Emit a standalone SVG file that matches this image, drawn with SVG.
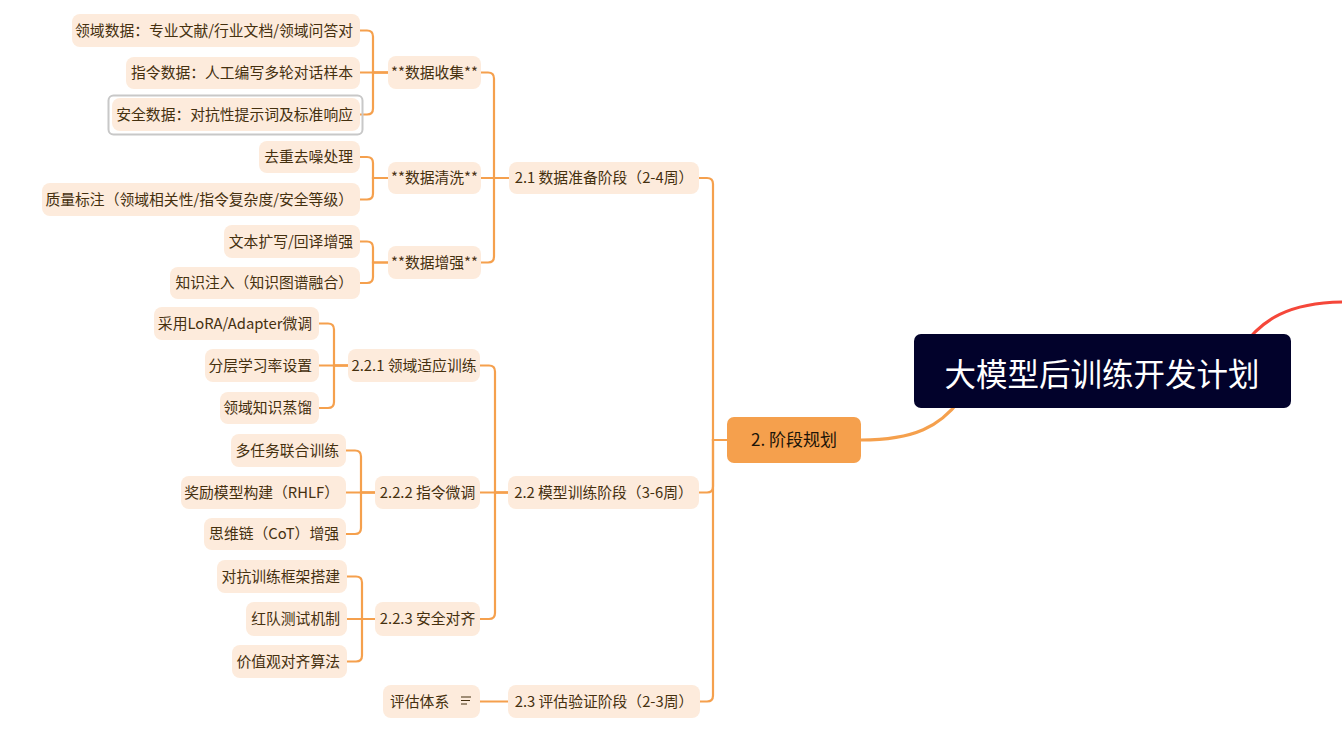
<svg xmlns="http://www.w3.org/2000/svg" width="1342" height="742" viewBox="0 0 1342 742">
<style>
.n{fill:#FDEBDC}
.t{font-family:"Noto Sans CJK SC","Noto Sans",sans-serif;font-size:14.8px;fill:#45300f}
.e{text-anchor:end}
.m{text-anchor:middle}
.c path{fill:none;stroke:#F5A04D;stroke-width:2.2;stroke-linecap:round}
</style>
<rect width="1342" height="742" fill="#ffffff"/>
<g id="connectors" class="c">
<path d="M1240,350 C1262,318 1290,303 1342,302" style="stroke:#F5473A;stroke-width:3"/>
<path d="M861,440 C915,440 940,426 960,400" style="stroke-width:3"/>
<!-- main to phases -->
<path d="M727,440 H713 V184 Q713,178 707,178 H699"/>
<path d="M727,440 H713 V486.5 Q713,492.5 707,492.5 H699"/>
<path d="M727,440 H713 V695.5 Q713,701.5 707,701.5 H700"/>
<!-- 2.1 -->
<path d="M509,178 H494 V78.5 Q494,72.5 488,72.5 H481"/>
<path d="M509,178 H481"/>
<path d="M509,178 H494 V256.5 Q494,262.5 488,262.5 H481"/>
<!-- 数据收集 -->
<path d="M388,72.5 H373 V36.5 Q373,30.5 367,30.5 H360"/>
<path d="M388,72.5 H360"/>
<path d="M388,72.5 H373 V108.5 Q373,114.5 367,114.5 H360"/>
<!-- 数据清洗 -->
<path d="M388,178 H373 V163 Q373,157 367,157 H360"/>
<path d="M388,178 H373 V193.5 Q373,199.5 367,199.5 H360"/>
<!-- 数据增强 -->
<path d="M388,262.5 H373 V247.5 Q373,241.5 367,241.5 H360"/>
<path d="M388,262.5 H373 V277 Q373,283 367,283 H360"/>
<!-- 2.2 -->
<path d="M508,492.5 H495 V371.5 Q495,365.5 489,365.5 H480"/>
<path d="M508,492.5 H480"/>
<path d="M508,492.5 H495 V613 Q495,619 489,619 H480"/>
<!-- 2.2.1 -->
<path d="M348,365.5 H334 V329.5 Q334,323.5 328,323.5 H319"/>
<path d="M348,365.5 H319"/>
<path d="M348,365.5 H334 V402 Q334,408 328,408 H319"/>
<!-- 2.2.2 -->
<path d="M375,492.5 H361 V456.5 Q361,450.5 355,450.5 H346"/>
<path d="M375,492.5 H346"/>
<path d="M375,492.5 H361 V528 Q361,534 355,534 H346"/>
<!-- 2.2.3 -->
<path d="M375,619 H362 V582.5 Q362,576.5 356,576.5 H347"/>
<path d="M375,619 H347"/>
<path d="M375,619 H362 V655.5 Q362,661.5 356,661.5 H347"/>
<!-- 2.3 -->
<path d="M508,701.5 H480"/>
</g>

<g id="root">
<rect x="914" y="334" width="377" height="74" rx="7" fill="#02022B"/>
<text x="1102" y="386" text-anchor="middle" style="font-family:'Noto Sans CJK SC',sans-serif;font-size:31.5px;fill:#ffffff">大模型后训练开发计划</text>
</g>
<g id="main">
<rect x="727" y="417" width="134" height="46" rx="7" fill="#F5A04D"/>
<text x="794" y="446" text-anchor="middle" style="font-family:'Noto Sans CJK SC',sans-serif;font-size:17px;fill:#1c1408">2. 阶段规划</text>
</g>

<g id="p1"><rect class="n" x="509" y="162" width="190" height="32" rx="8"/><text class="t m" x="604" y="183">2.1 数据准备阶段（2-4周）</text></g>
<g id="p2"><rect class="n" x="508" y="476" width="191" height="33" rx="8"/><text class="t m" x="603.5" y="497.5">2.2 模型训练阶段（3-6周）</text></g>
<g id="p3"><rect class="n" x="508" y="685" width="192" height="33" rx="8"/><text class="t m" x="604" y="706.5">2.3 评估验证阶段（2-3周）</text></g>

<g id="c1"><rect class="n" x="388" y="56" width="93" height="33" rx="8"/><text class="t m" x="434.5" y="77.5">**数据收集**</text></g>
<g id="c2"><rect class="n" x="388" y="162" width="93" height="32" rx="8"/><text class="t m" x="434.5" y="183">**数据清洗**</text></g>
<g id="c3"><rect class="n" x="388" y="246" width="93" height="33" rx="8"/><text class="t m" x="434.5" y="267.5">**数据增强**</text></g>

<g id="l1"><rect class="n" x="72" y="14" width="288" height="33" rx="8"/><text class="t e" x="353" y="35.5">领域数据：专业文献/行业文档/领域问答对</text></g>
<g id="l2"><rect class="n" x="126" y="57" width="234" height="32" rx="8"/><text class="t e" x="353" y="78">指令数据：人工编写多轮对话样本</text></g>
<g id="l3"><rect x="108.5" y="95.5" width="254" height="39" rx="5" fill="none" stroke="#C8C8C8" stroke-width="2"/><rect class="n" x="112" y="98" width="248" height="33" rx="8"/><text class="t e" x="353" y="119.5">安全数据：对抗性提示词及标准响应</text></g>
<g id="l4"><rect class="n" x="259" y="141" width="101" height="32" rx="8"/><text class="t e" x="353" y="162">去重去噪处理</text></g>
<g id="l5"><rect class="n" x="42" y="183" width="318" height="33" rx="8"/><text class="t e" x="353" y="204.5">质量标注（领域相关性/指令复杂度/安全等级）</text></g>
<g id="l6"><rect class="n" x="224" y="225" width="136" height="33" rx="8"/><text class="t e" x="353" y="246.5">文本扩写/回译增强</text></g>
<g id="l7"><rect class="n" x="170" y="267" width="190" height="32" rx="8"/><text class="t e" x="353" y="288">知识注入（知识图谱融合）</text></g>

<g id="c4"><rect class="n" x="348" y="349" width="132" height="33" rx="8"/><text class="t m" x="414" y="370.5">2.2.1 领域适应训练</text></g>
<g id="c5"><rect class="n" x="375" y="476" width="105" height="33" rx="8"/><text class="t m" x="427.5" y="497.5">2.2.2 指令微调</text></g>
<g id="c6"><rect class="n" x="375" y="602" width="105" height="34" rx="8"/><text class="t m" x="427.5" y="624">2.2.3 安全对齐</text></g>

<g id="l8"><rect class="n" x="154" y="307" width="165" height="33" rx="8"/><text class="t e" x="312" y="328.5">采用LoRA/Adapter微调</text></g>
<g id="l9"><rect class="n" x="205" y="349" width="114" height="33" rx="8"/><text class="t e" x="312" y="370.5">分层学习率设置</text></g>
<g id="l10"><rect class="n" x="220" y="392" width="99" height="32" rx="8"/><text class="t e" x="312" y="413">领域知识蒸馏</text></g>
<g id="l11"><rect class="n" x="231" y="434" width="115" height="33" rx="8"/><text class="t e" x="339" y="455.5">多任务联合训练</text></g>
<g id="l12"><rect class="n" x="181" y="476" width="165" height="33" rx="8"/><text class="t e" x="339" y="497.5">奖励模型构建（RHLF）</text></g>
<g id="l13"><rect class="n" x="204" y="518" width="142" height="32" rx="8"/><text class="t e" x="339" y="539">思维链（CoT）增强</text></g>
<g id="l14"><rect class="n" x="217" y="560" width="130" height="33" rx="8"/><text class="t e" x="340" y="581.5">对抗训练框架搭建</text></g>
<g id="l15"><rect class="n" x="246" y="602" width="101" height="34" rx="8"/><text class="t e" x="340" y="624">红队测试机制</text></g>
<g id="l16"><rect class="n" x="232" y="645" width="115" height="33" rx="8"/><text class="t e" x="340" y="666.5">价值观对齐算法</text></g>
<g id="l17"><rect class="n" x="383" y="685" width="97" height="33" rx="8"/><text class="t" x="390" y="706.5">评估体系</text>
<path d="M461,697 H471 M461,700.5 H470 M461,704 H467" fill="none" stroke="#45300f" stroke-width="1.2"/></g>
</svg>
